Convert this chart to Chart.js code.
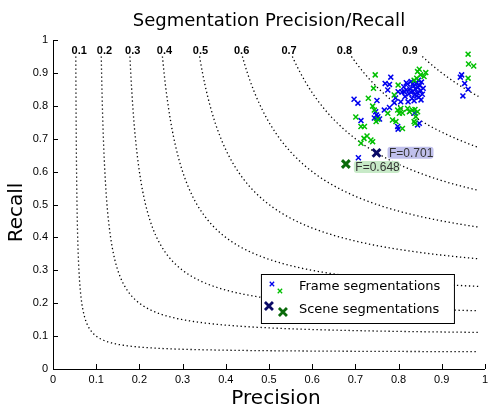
<!DOCTYPE html>
<html>
<head>
<meta charset="utf-8">
<script src="https://cdn.jsdelivr.net/npm/chart.js@4.4.1/dist/chart.umd.min.js"></script>
<style>
  html, body { margin: 0; padding: 0; background: #fff; }
</style>
</head>
<body>
<canvas id="myChart" width="492" height="410"></canvas>
<script>
// iso-F levels drawn as dotted contours
const fLevels = [0.1, 0.2, 0.3, 0.4, 0.5, 0.6, 0.7, 0.8, 0.9];
const fLabels = ['0.1', '0.2', '0.3', '0.4', '0.5', '0.6', '0.7', '0.8', '0.9'];

// [precision, recall] of each frame segmentation
const frameBlue = [
  [0.808, 0.842], [0.812, 0.858], [0.815, 0.828], [0.818, 0.848], [0.821, 0.866],
  [0.824, 0.836], [0.826, 0.852], [0.829, 0.874], [0.831, 0.822], [0.833, 0.844],
  [0.835, 0.860], [0.837, 0.834], [0.839, 0.851], [0.841, 0.868], [0.843, 0.840],
  [0.845, 0.856], [0.847, 0.826], [0.849, 0.862], [0.851, 0.846], [0.853, 0.872],
  [0.855, 0.835], [0.857, 0.853], [0.836, 0.815], [0.822, 0.812], [0.846, 0.878],
  [0.828, 0.842], [0.842, 0.830], [0.818, 0.870], [0.852, 0.818], [0.833, 0.866],
  [0.799, 0.843], [0.813, 0.843], [0.793, 0.824], [0.790, 0.809], [0.805, 0.812],
  [0.779, 0.795], [0.767, 0.787], [0.747, 0.782], [0.752, 0.767], [0.744, 0.763],
  [0.756, 0.760], [0.749, 0.772], [0.844, 0.742], [0.848, 0.747], [0.798, 0.737],
  [0.799, 0.729], [0.713, 0.755], [0.697, 0.820], [0.706, 0.808], [0.750, 0.816],
  [0.782, 0.887], [0.769, 0.868], [0.779, 0.865], [0.775, 0.848], [0.837, 0.778],
  [0.946, 0.894], [0.943, 0.887], [0.953, 0.868], [0.961, 0.850], [0.949, 0.830],
  [0.707, 0.642]
];
const frameGreen = [
  [0.961, 0.957], [0.962, 0.927], [0.974, 0.921], [0.961, 0.884],
  [0.746, 0.894], [0.742, 0.853], [0.799, 0.863], [0.730, 0.823], [0.790, 0.833],
  [0.844, 0.904], [0.851, 0.894], [0.863, 0.901], [0.859, 0.889], [0.842, 0.884],
  [0.836, 0.878], [0.848, 0.911],
  [0.740, 0.799], [0.744, 0.787], [0.798, 0.787], [0.802, 0.777], [0.805, 0.792],
  [0.821, 0.792], [0.825, 0.782], [0.832, 0.787], [0.838, 0.789],
  [0.786, 0.757], [0.794, 0.752], [0.775, 0.777], [0.748, 0.752], [0.752, 0.759],
  [0.713, 0.737], [0.721, 0.737], [0.727, 0.708], [0.720, 0.701], [0.713, 0.686],
  [0.736, 0.696], [0.740, 0.691], [0.809, 0.731], [0.836, 0.752], [0.838, 0.747],
  [0.844, 0.782], [0.840, 0.767], [0.701, 0.766], [0.809, 0.778]
];
// overall scene segmentation results
const sceneBlue = [[0.749, 0.657]];
const sceneGreen = [[0.678, 0.623]];
const sceneLabels = ['F=0.701', 'F=0.648'];

const tickValues = [0, 0.1, 0.2, 0.3, 0.4, 0.5, 0.6, 0.7, 0.8, 0.9, 1];
const tickLabels = ['0', '0.1', '0.2', '0.3', '0.4', '0.5', '0.6', '0.7', '0.8', '0.9', '1'];

const BLUE = '#0000ee', GREEN = '#00c000', NAVY = '#0a0a66', DKGREEN = '#0a6a0a';

// contour (2p-f)(2r-f) = f^2, clipped to r <= 0.95 and p <= 0.985
function isoCurve(f) {
  const sMin = -Math.log(2 * 0.95 / f - 1);
  const sMax = Math.log(2 * 0.985 / f - 1);
  const pts = [];
  for (let i = 0; i <= 300; i++) {
    const s = sMin + (sMax - sMin) * i / 300;
    pts.push({x: f / 2 * (1 + Math.exp(s)), y: f / 2 * (1 + Math.exp(-s))});
  }
  return pts;
}
const toXY = arr => arr.map(d => ({x: d[0], y: d[1]}));

const datasets = [
  {data: toXY(frameBlue), pointStyle: 'crossRot', pointRadius: 3.5, borderColor: BLUE, pointBorderWidth: 1.5, order: 3},
  {data: toXY(frameGreen), pointStyle: 'crossRot', pointRadius: 3.5, borderColor: GREEN, pointBorderWidth: 1.5, order: 2},
  {data: toXY(sceneBlue), pointStyle: 'crossRot', pointRadius: 5.5, borderColor: NAVY, pointBorderWidth: 3, order: 1},
  {data: toXY(sceneGreen), pointStyle: 'crossRot', pointRadius: 5.5, borderColor: DKGREEN, pointBorderWidth: 3, order: 1}
];
fLevels.forEach(f => datasets.push({
  data: isoCurve(f), showLine: true, pointRadius: 0, borderColor: '#000',
  borderWidth: 1.3, borderDash: [1.3, 2.7], fill: false, order: 10
}));

function drawX(ctx, x, y, r, w, color) {
  ctx.save();
  ctx.strokeStyle = color;
  ctx.lineWidth = w;
  ctx.beginPath();
  ctx.moveTo(x - r, y - r); ctx.lineTo(x + r, y + r);
  ctx.moveTo(x - r, y + r); ctx.lineTo(x + r, y - r);
  ctx.stroke();
  ctx.restore();
}

const decorations = {
  id: 'decorations',
  afterDatasetsDraw(chart) {
    const {ctx, chartArea: a, scales: {x, y}} = chart;
    ctx.save();
    // inward tick marks
    ctx.strokeStyle = '#000';
    ctx.lineWidth = 1;
    ctx.beginPath();
    tickValues.forEach(v => {
      const px = Math.round(x.getPixelForValue(v)) + 0.5;
      ctx.moveTo(px, a.bottom); ctx.lineTo(px, a.bottom - 5);
      const py = Math.round(y.getPixelForValue(v)) + 0.5;
      ctx.moveTo(a.left, py); ctx.lineTo(a.left + 5, py);
    });
    ctx.stroke();

    // iso-F labels along the top
    ctx.font = 'bold 11px "Liberation Sans", Arial, sans-serif';
    ctx.fillStyle = '#000';
    ctx.textAlign = 'center';
    ctx.textBaseline = 'middle';
    fLevels.forEach((f, i) => {
      ctx.fillText(fLabels[i], x.getPixelForValue(f / (2 - f)) + 3.5, y.getPixelForValue(0.967));
    });

    // F-measure tags next to the scene results
    ctx.font = '12px "Liberation Sans", Arial, sans-serif';
    ctx.textAlign = 'left';
    const tags = [
      {pt: sceneBlue[0], dx: 11, dy: -6, bg: 'rgb(192,192,236)'},
      {pt: sceneGreen[0], dx: 8, dy: -3, bg: 'rgb(200,234,200)'}
    ];
    tags.forEach((t, i) => {
      const px = x.getPixelForValue(t.pt[0]) + t.dx;
      const py = y.getPixelForValue(t.pt[1]) + t.dy;
      ctx.fillStyle = t.bg;
      ctx.beginPath();
      ctx.roundRect(px, py, 46, 12, 3);
      ctx.fill();
      ctx.fillStyle = '#333';
      ctx.fillText(sceneLabels[i], px + 1.5, py + 6.5);
    });

    // legend
    const lx = a.right - 224, ly = a.bottom - 95;
    ctx.fillStyle = '#fff';
    ctx.fillRect(lx, ly, 193, 49);
    ctx.strokeStyle = '#000';
    ctx.lineWidth = 1;
    ctx.strokeRect(lx + 0.5, ly + 0.5, 193, 49);
    drawX(ctx, lx + 11, ly + 10, 2.2, 1.3, BLUE);
    drawX(ctx, lx + 19, ly + 17, 2.2, 1.3, GREEN);
    drawX(ctx, lx + 8, ly + 32, 4, 2.8, NAVY);
    drawX(ctx, lx + 22, ly + 38, 4, 2.8, DKGREEN);
    ctx.fillStyle = '#000';
    ctx.font = '13px "DejaVu Sans", sans-serif';
    ctx.textBaseline = 'middle';
    ctx.fillText('Frame segmentations', lx + 38, ly + 13);
    ctx.fillText('Scene segmentations', lx + 38, ly + 36);

    // axis titles (placed like the original, a little off-centre)
    ctx.font = '20px "DejaVu Sans", sans-serif';
    ctx.textAlign = 'center';
    ctx.fillText('Precision', (a.left + a.right) / 2 + 7, a.bottom + 30);
    ctx.translate(17, (a.top + a.bottom) / 2 + 8);
    ctx.rotate(-Math.PI / 2);
    ctx.fillText('Recall', 0, 0);
    ctx.restore();
  }
};

const tickFont = {family: '"Liberation Sans", Arial, sans-serif', size: 11};

new Chart(document.getElementById('myChart'), {
  type: 'scatter',
  data: {datasets: datasets},
  plugins: [decorations],
  options: {
    responsive: false,
    animation: false,
    devicePixelRatio: 1,
    layout: {autoPadding: false, padding: {top: 0, left: 0, right: 4, bottom: 0}},
    plugins: {
      legend: {display: false},
      tooltip: {enabled: false},
      title: {
        display: true,
        fullSize: false,
        text: 'Segmentation Precision/Recall',
        color: '#000',
        font: {family: '"DejaVu Sans", sans-serif', size: 18, weight: 'normal', lineHeight: 1.2},
        padding: {top: 11, bottom: 7.4}
      }
    },
    scales: {
      x: {
        type: 'linear', min: 0, max: 1,
        afterBuildTicks: s => { s.ticks = tickValues.map(v => ({value: v})); },
        afterFit: s => { s.height = 41; },
        grid: {display: false, drawTicks: false},
        border: {display: true, color: '#000', width: 1},
        ticks: {color: '#000', font: tickFont, padding: 4, maxRotation: 0, callback: (v, i) => tickLabels[i]}
      },
      y: {
        type: 'linear', min: 0, max: 1,
        afterBuildTicks: s => { s.ticks = tickValues.map(v => ({value: v})); },
        afterFit: s => { s.width = 53; },
        grid: {display: false, drawTicks: false},
        border: {display: true, color: '#000', width: 1},
        ticks: {color: '#000', font: tickFont, padding: 5, callback: (v, i) => tickLabels[i]}
      }
    }
  }
});
</script>
</body>
</html>
